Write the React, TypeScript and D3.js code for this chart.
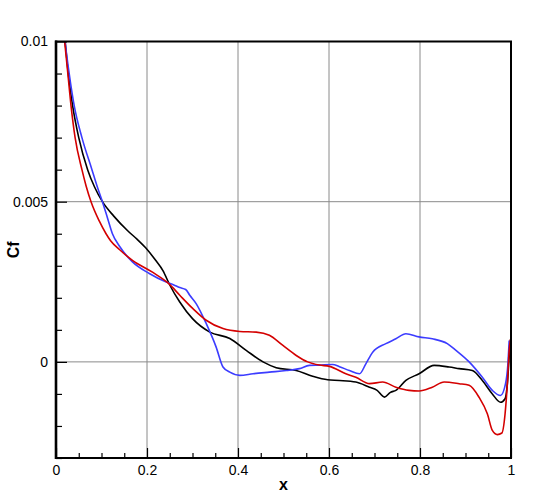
import React, { useEffect, useRef } from 'react';
import * as d3 from 'd3';

// skin friction along x, three cases
const blackX = [0.005, 0.012, 0.020, 0.027, 0.0365, 0.050, 0.0695, 0.085, 0.102, 0.127, 0.157, 0.178, 0.197, 0.219, 0.235, 0.250, 0.272, 0.300, 0.338, 0.382, 0.418, 0.455, 0.484, 0.528, 0.564, 0.597, 0.623, 0.659, 0.689, 0.705, 0.722, 0.735, 0.747, 0.769, 0.798, 0.831, 0.864, 0.886, 0.915, 0.937, 0.959, 0.977, 0.987, 0.992, 0.996, 0.999];
const blackCf = [0.0125, 0.0110, 0.0100, 0.0090, 0.0080, 0.0070, 0.0060, 0.00545, 0.0050, 0.00455, 0.0041, 0.00383, 0.00356, 0.00317, 0.00285, 0.0024, 0.00187, 0.00135, 0.00093, 0.00073, 0.00036, 0.0, -0.00018, -0.00027, -0.00045, -0.00056, -0.00058, -0.00063, -0.00079, -0.00088, -0.0011, -0.00095, -0.00089, -0.00058, -0.00037, -0.00011, -0.00016, -0.00021, -0.00027, -0.00058, -0.0010, -0.00126, -0.00115, -0.00068, 0.00016, 0.0007];

const blueX = [0.005, 0.012, 0.020, 0.029, 0.040, 0.057, 0.079, 0.090, 0.102, 0.113, 0.124, 0.140, 0.168, 0.205, 0.241, 0.259, 0.272, 0.285, 0.294, 0.308, 0.330, 0.352, 0.367, 0.382, 0.404, 0.433, 0.469, 0.506, 0.535, 0.557, 0.579, 0.608, 0.623, 0.645, 0.667, 0.681, 0.696, 0.725, 0.747, 0.769, 0.798, 0.827, 0.860, 0.879, 0.908, 0.937, 0.959, 0.977, 0.988, 0.993, 0.996];
const blueCf = [0.0128, 0.0112, 0.0100, 0.0090, 0.0080, 0.0070, 0.0060, 0.0055, 0.0050, 0.0045, 0.0040, 0.0036, 0.00312, 0.00276, 0.0025, 0.0024, 0.00232, 0.00226, 0.00208, 0.00182, 0.0012, 0.00046, -0.00016, -0.00032, -0.00042, -0.00037, -0.00032, -0.00027, -0.00021, -0.00011, -0.0001, -0.00008, -0.00015, -0.00027, -0.00037, -0.00006, 0.0003, 0.00057, 0.00072, 0.00088, 0.00078, 0.00072, 0.00057, 0.00036, 0.0, -0.00048, -0.00089, -0.00105, -0.00068, -0.0001, 0.00067];

const redX = [0.005, 0.012, 0.019, 0.026, 0.033, 0.042, 0.057, 0.066, 0.077, 0.095, 0.110, 0.120, 0.140, 0.168, 0.212, 0.248, 0.272, 0.301, 0.330, 0.367, 0.404, 0.440, 0.469, 0.498, 0.528, 0.553, 0.579, 0.601, 0.637, 0.659, 0.689, 0.718, 0.747, 0.776, 0.798, 0.827, 0.853, 0.886, 0.908, 0.930, 0.948, 0.959, 0.970, 0.980, 0.987, 0.992, 0.996, 0.999];
const redCf = [0.0124, 0.0110, 0.0100, 0.0090, 0.0080, 0.0070, 0.0060, 0.0055, 0.0050, 0.0044, 0.0040, 0.00378, 0.0035, 0.00317, 0.0028, 0.00244, 0.00208, 0.00166, 0.0013, 0.00104, 0.00095, 0.00093, 0.00083, 0.00052, 0.0002, 0.0, -0.0001, -0.00014, -0.00037, -0.00048, -0.00068, -0.00063, -0.00079, -0.00089, -0.00091, -0.00079, -0.00063, -0.00068, -0.00073, -0.00111, -0.00162, -0.00214, -0.00227, -0.00222, -0.00162, -0.00068, 0.00036, 0.0007];

const xMajor = [0, 0.2, 0.4, 0.6, 0.8, 1];
const xMinor = [0.05, 0.1, 0.15, 0.25, 0.3, 0.35, 0.45, 0.5, 0.55, 0.65, 0.7, 0.75, 0.85, 0.9, 0.95];
const yMajor = [0, 0.005, 0.01];
const yMinor = [-0.003, -0.002, -0.001, 0.001, 0.002, 0.003, 0.004, 0.006, 0.007, 0.008, 0.009];
const yLabels = ['0', '0.005', '0.01'];

const series = [
  { name: 'black', xs: blackX, ys: blackCf, color: '#000000' },
  { name: 'blue', xs: blueX, ys: blueCf, color: '#3c3cff' },
  { name: 'red', xs: redX, ys: redCf, color: '#d40000' },
];

const W = 538;
const H = 495;

export default function App() {
  const ref = useRef<SVGSVGElement>(null);

  useEffect(() => {
    if (!ref.current) return;
    const margin = { top: 41.5, right: 27, bottom: 37, left: 56 };
    const iw = W - margin.left - margin.right;
    const ih = H - margin.top - margin.bottom;

    const svg = d3.select(ref.current);
    svg.selectAll('*').remove();

    const g = svg.append('g').attr('transform', `translate(${margin.left},${margin.top})`);

    const x = d3.scaleLinear().domain([0, 1]).range([0, iw]);
    const y = d3.scaleLinear().domain([-0.003, 0.01]).range([ih, 0]);

    g.append('defs').append('clipPath').attr('id', 'plot-clip')
      .append('rect').attr('width', iw).attr('height', ih);

    // grid
    g.append('g').selectAll('line')
      .data(xMajor.filter(d => d > 0 && d < 1))
      .join('line')
      .attr('x1', d => x(d)).attr('x2', d => x(d))
      .attr('y1', 0).attr('y2', ih)
      .attr('stroke', '#8a8a8a').attr('stroke-width', 1);
    g.append('g').selectAll('line')
      .data(yMajor.filter(d => d < 0.01))
      .join('line')
      .attr('y1', d => y(d)).attr('y2', d => y(d))
      .attr('x1', 0).attr('x2', iw)
      .attr('stroke', '#8a8a8a').attr('stroke-width', 1);

    // curves
    const line = d3.line<[number, number]>()
      .x(d => x(d[0]))
      .y(d => y(d[1]))
      .curve(d3.curveMonotoneX);

    const curves = g.append('g').attr('clip-path', 'url(#plot-clip)');
    series.forEach(s => {
      const pts = s.xs.map((v, i) => [v, s.ys[i]] as [number, number]);
      curves.append('path')
        .datum(pts)
        .attr('fill', 'none')
        .attr('stroke', s.color)
        .attr('stroke-width', 1.6)
        .attr('stroke-linejoin', 'round')
        .attr('d', line);
    });

    const font = '"Liberation Sans", Arial, sans-serif';

    // bottom axis, ticks pointing in
    const bottom = g.append('g').attr('transform', `translate(0,${ih})`);
    bottom.call(d3.axisBottom(x).tickValues(xMinor).tickSize(-5).tickFormat(() => ''));
    bottom.append('g').call(
      d3.axisBottom(x).tickValues(xMajor).tickSize(-10).tickPadding(7)
        .tickFormat(d => (+d === 0 || +d === 1 ? String(d) : (+d).toFixed(1)))
    );

    // left axis
    const left = g.append('g');
    left.call(d3.axisLeft(y).tickValues(yMinor).tickSize(-6).tickFormat(() => ''));
    left.append('g').call(
      d3.axisLeft(y).tickValues(yMajor).tickSize(-11).tickPadding(8)
        .tickFormat((d, i) => yLabels[yMajor.indexOf(+d)] ?? String(i))
    );

    g.selectAll('.domain').remove();
    g.selectAll('.tick line').attr('stroke', '#000').attr('stroke-width', 1.2);
    g.selectAll('.tick text')
      .attr('fill', '#000')
      .style('font-family', font)
      .style('font-size', '14px');

    // frame
    g.append('rect')
      .attr('width', iw).attr('height', ih)
      .attr('fill', 'none').attr('stroke', '#000').attr('stroke-width', 2);
    g.append('line')
      .attr('x1', 0).attr('x2', 0).attr('y1', -1).attr('y2', ih + 1)
      .attr('stroke', '#000').attr('stroke-width', 2.6);

    // axis titles
    svg.append('text')
      .attr('x', margin.left + iw / 2).attr('y', H - 5)
      .attr('text-anchor', 'middle')
      .style('font-family', font).style('font-size', '16px').style('font-weight', 'bold')
      .text('x');
    svg.append('text')
      .attr('transform', `translate(19,${margin.top + ih / 2}) rotate(-90)`)
      .attr('text-anchor', 'middle')
      .style('font-family', font).style('font-size', '16px').style('font-weight', 'bold')
      .text('Cf');
  }, []);

  return (
    <svg
      ref={ref}
      width={W}
      height={H}
      style={{ position: 'absolute', left: 0, top: 0, background: '#fff' }}
    />
  );
}
